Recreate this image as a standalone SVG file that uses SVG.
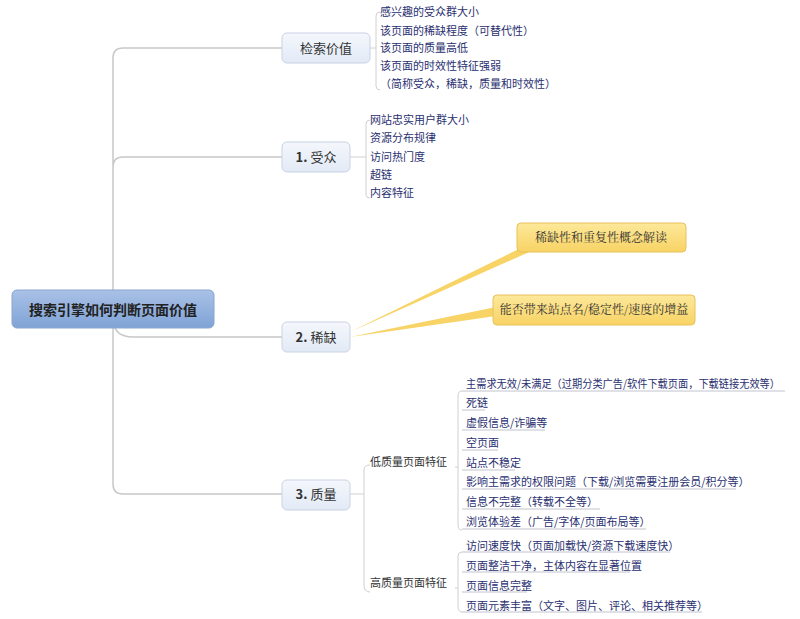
<svg xmlns="http://www.w3.org/2000/svg" width="800" height="619" viewBox="0 0 800 619">
<defs>
<linearGradient id="rootg" x1="0" y1="0" x2="0" y2="1"><stop offset="0" stop-color="#a9c1e6"/><stop offset="1" stop-color="#7fa3d6"/></linearGradient>
<linearGradient id="nodeg" x1="0" y1="0" x2="0" y2="1"><stop offset="0" stop-color="#f4f7fc"/><stop offset="1" stop-color="#e2eaf6"/></linearGradient>
<linearGradient id="yel" x1="0" y1="0" x2="0" y2="1"><stop offset="0" stop-color="#fde89a"/><stop offset="1" stop-color="#f8d365"/></linearGradient>
</defs>
<style>
text{font-family:"Noto Sans CJK SC","Liberation Sans",sans-serif}
.c{fill:none;stroke:#c8c8c8;stroke-width:1.5}
.b{fill:none;stroke:#d0d0d0;stroke-width:1}
.u{fill:none;stroke:#c0c4d0;stroke-width:1}
.node{fill:url(#nodeg);stroke:#c9d3e3;stroke-width:1}
.nt{font-size:13px;fill:#333;text-anchor:middle}
.it{font-size:11px;fill:#2a3070}
.yt{font-size:12px;fill:#333;text-anchor:middle;font-family:"Noto Serif CJK SC","Noto Sans CJK SC",serif}
</style>
<rect width="800" height="619" fill="#fff"/>
<g id="connectors">
<path class="c" d="M214 309 H120 M113 300 V58 Q113 48 123 48 H282 M113 167 Q113 157 123 157 H282 M113 318 Q113 337 133 337 H282 M113 318 V484 Q113 494 123 494 H282"/>
<path class="b" d="M370 48 H376 M376 16 V86 M376 16 Q376 12 380 12 M376 86 Q376 90 380 90"/>
<path class="b" d="M350 157 H366 M366 124 V195 M366 124 Q366 120 370 120 M366 195 Q366 198 370 198"/>
<path class="b" d="M350 494 H364 M364 470 V585 Q364 592 370 592 M364 470 Q364 465 370 465"/>
<path class="b" d="M455 467 H458 M458 396 V525 Q458 530 462 530 M458 396 Q458 391 462 391"/>
<path class="b" d="M455 588 H458 M458 556 V606 Q458 612 462 612 M458 556 Q458 552 462 552"/>
<path class="u" d="M462 391 H785 M462 410 H485 M462 430 H545 M462 450 H498 M462 470 H515 M462 489 H736 M462 509 H600 M462 529 H646 M462 552 H670 M462 572 H630 M462 592 H527 M462 612 H702"/>
<polygon points="350,332 523,247 545,245" fill="#f8d365"/>
<polygon points="350,337 496,307 496,316" fill="#f8d365"/>
</g>
<g id="root"><rect x="12" y="290" width="202" height="38" rx="5" fill="url(#rootg)" stroke="#8aa6d0"/><text x="113" y="315" font-size="14" font-weight="bold" fill="#222" text-anchor="middle">搜索引擎如何判断页面价值</text></g>
<g id="n-jiansuo"><rect class="node" x="282" y="33" width="88" height="30" rx="5"/><text class="nt" x="326" y="53">检索价值</text></g>
<g id="n-shouzhong"><rect class="node" x="282" y="142" width="68" height="30" rx="5"/><text class="nt" x="316" y="162"><tspan font-weight="bold">1.</tspan> 受众</text></g>
<g id="n-xique"><rect class="node" x="282" y="322" width="68" height="30" rx="5"/><text class="nt" x="316" y="342"><tspan font-weight="bold">2.</tspan> 稀缺</text></g>
<g id="n-zhiliang"><rect class="node" x="282" y="480" width="68" height="30" rx="5"/><text class="nt" x="316" y="499"><tspan font-weight="bold">3.</tspan> 质量</text></g>
<g id="callout1"><rect x="517" y="223" width="169" height="29" rx="4" fill="url(#yel)" stroke="#e8c25a"/><text class="yt" x="601" y="242">稀缺性和重复性概念解读</text></g>
<g id="callout2"><rect x="493" y="295" width="202" height="30" rx="4" fill="url(#yel)" stroke="#e8c25a"/><text class="yt" x="594" y="314" font-size="11">能否带来站点名/稳定性/速度的增益</text></g>
<g id="items-jiansuo">
<text class="it" x="380" y="16">感兴趣的受众群大小</text>
<text class="it" x="380" y="35">该页面的稀缺程度（可替代性）</text>
<text class="it" x="380" y="52">该页面的质量高低</text>
<text class="it" x="380" y="70">该页面的时效性特征强弱</text>
<text class="it" x="380" y="88">（简称受众，稀缺，质量和时效性）</text>
</g>
<g id="items-shouzhong">
<text class="it" x="370" y="124">网站忠实用户群大小</text>
<text class="it" x="370" y="142">资源分布规律</text>
<text class="it" x="370" y="161">访问热门度</text>
<text class="it" x="370" y="179">超链</text>
<text class="it" x="370" y="197">内容特征</text>
</g>
<g id="sub-low"><text class="it" x="370" y="466" style="fill:#333">低质量页面特征</text></g>
<g id="sub-high"><text class="it" x="370" y="587" style="fill:#333">高质量页面特征</text></g>
<g id="items-low">
<text class="it" x="466" y="388" textLength="314" lengthAdjust="spacingAndGlyphs">主需求无效/未满足（过期分类广告/软件下载页面，下载链接无效等）</text>
<text class="it" x="466" y="407">死链</text>
<text class="it" x="466" y="427">虚假信息/诈骗等</text>
<text class="it" x="466" y="447">空页面</text>
<text class="it" x="466" y="467">站点不稳定</text>
<text class="it" x="466" y="486">影响主需求的权限问题（下载/浏览需要注册会员/积分等）</text>
<text class="it" x="466" y="506">信息不完整（转载不全等）</text>
<text class="it" x="466" y="526">浏览体验差（广告/字体/页面布局等）</text>
</g>
<g id="items-high">
<text class="it" x="466" y="550">访问速度快（页面加载快/资源下载速度快）</text>
<text class="it" x="466" y="570">页面整洁干净，主体内容在显著位置</text>
<text class="it" x="466" y="590">页面信息完整</text>
<text class="it" x="466" y="610">页面元素丰富（文字、图片、评论、相关推荐等）</text>
</g>
</svg>
